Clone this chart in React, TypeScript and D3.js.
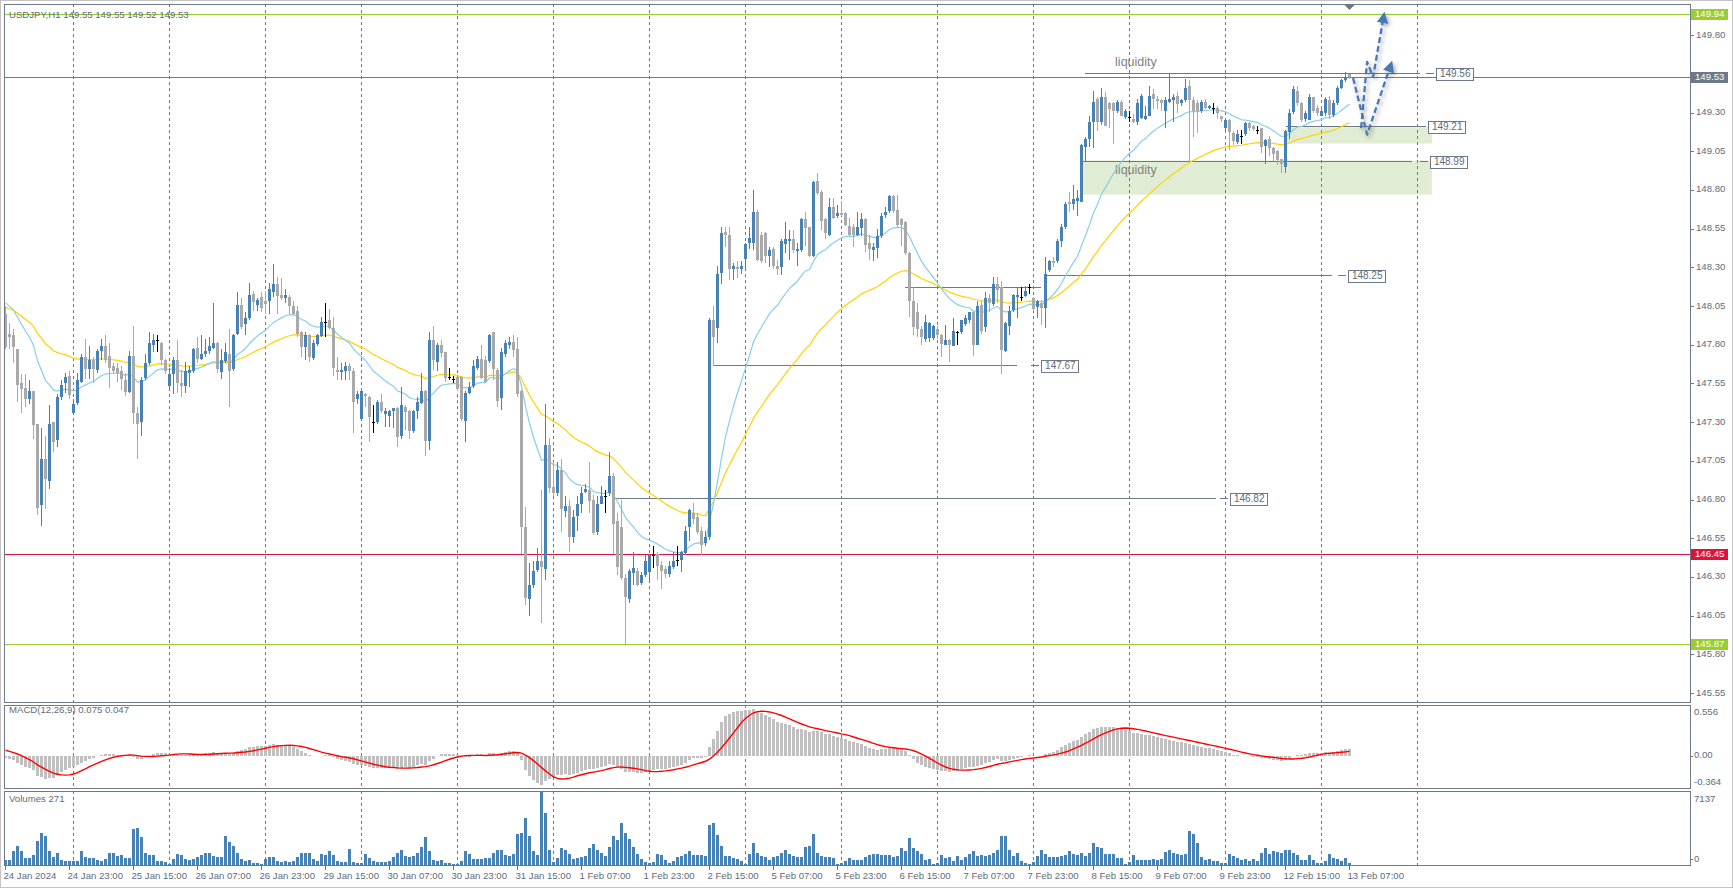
import React from 'react';
import * as d3 from 'd3';

// ---------------- DATA ----------------
const opens = [
148.00,147.87,147.86,147.77,147.55,147.52,147.45,147.50,147.29,146.76,
147.06,146.92,147.30,147.18,147.46,147.55,147.60,147.36,147.42,147.56,
147.72,147.64,147.70,147.64,147.76,147.79,147.73,147.66,147.65,147.63,
147.57,147.50,147.73,147.36,147.30,147.58,147.68,147.80,147.83,147.81,
147.70,147.53,147.61,147.70,147.55,147.53,147.62,147.63,147.78,147.71,
147.74,147.76,147.78,147.81,147.62,147.69,147.74,147.64,147.87,148.06,
147.93,147.97,148.13,148.06,148.11,148.08,148.08,148.14,148.19,148.12,
148.10,148.11,148.05,148.02,147.88,147.78,147.86,147.71,147.80,147.86,
147.95,147.96,147.91,147.64,147.63,147.63,147.66,147.63,147.45,147.32,
147.48,147.46,147.30,147.30,147.43,147.35,147.34,147.37,147.39,147.21,
147.40,147.37,147.24,147.37,147.42,147.50,147.18,147.83,147.69,147.80,
147.75,147.59,147.58,147.59,147.59,147.31,147.49,147.53,147.65,147.71,
147.70,147.69,147.88,147.64,147.45,147.74,147.80,147.82,147.77,147.50,
146.62,146.16,146.25,146.34,146.40,146.35,147.15,146.88,146.84,146.99,
146.73,146.76,146.56,146.69,146.77,146.85,146.86,146.80,146.59,146.77,
146.82,146.84,146.95,146.66,146.62,146.29,146.16,146.33,146.34,146.26,
146.31,146.33,146.44,146.45,146.38,146.35,146.32,146.36,146.41,146.41,
146.46,146.62,146.71,146.69,146.60,146.52,146.56,147.96,147.91,148.26,
148.53,148.51,148.29,148.30,148.29,148.35,148.46,148.46,148.66,148.51,
148.52,148.37,148.42,148.31,148.30,148.45,148.47,148.48,148.41,148.41,
148.61,148.56,148.37,148.86,148.79,148.61,148.51,148.69,148.63,148.65,
148.65,148.57,148.56,148.51,148.55,148.61,148.46,148.41,148.42,148.50,
148.64,148.66,148.76,148.67,148.61,148.59,148.39,148.08,148.01,147.90,
147.84,147.84,147.84,147.90,147.86,147.80,147.83,147.79,147.88,147.88,
147.93,147.96,148.01,147.80,148.06,147.91,148.10,148.06,148.19,148.17,
147.76,147.92,148.02,148.11,148.11,148.12,148.17,148.10,148.04,148.07,
148.04,148.28,148.34,148.34,148.47,148.56,148.72,148.71,148.73,148.72,
149.08,149.13,149.24,149.39,149.24,149.40,149.36,149.36,149.31,149.37,
149.27,149.27,149.26,149.24,149.27,149.26,149.28,149.42,149.39,149.38,
149.31,149.37,149.38,149.41,149.36,149.38,149.47,149.38,149.36,149.31,
149.37,149.33,149.33,149.33,149.28,149.20,149.25,149.17,149.11,149.15,
149.16,149.23,149.21,149.19,149.20,149.08,149.13,149.07,149.05,149.00,
148.95,149.18,149.30,149.44,149.36,149.26,149.25,149.40,149.33,149.28,
149.30,149.38,149.28,149.36,149.46,149.51,149.55];

const highs = [
148.05,147.94,147.90,147.77,147.61,147.61,147.57,147.50,147.29,147.26,
147.21,147.41,147.30,147.48,147.57,147.62,147.63,147.45,147.62,147.74,
147.84,147.79,147.72,147.77,147.84,147.86,147.81,147.68,147.68,147.66,
147.62,147.76,147.92,147.40,147.59,147.74,147.88,147.87,147.86,147.82,
147.71,147.65,147.72,147.83,147.64,147.69,147.66,147.78,147.85,147.86,
147.84,147.85,148.07,147.82,147.77,147.81,147.90,147.87,148.14,148.10,
148.01,148.20,148.15,148.10,148.14,148.15,148.20,148.32,148.24,148.23,
148.16,148.12,148.08,148.05,147.89,147.88,147.87,147.83,147.87,147.98,
148.07,148.03,147.98,147.72,147.68,147.69,147.68,147.65,147.50,147.52,
147.49,147.47,147.41,147.44,147.48,147.39,147.38,147.39,147.40,147.53,
147.41,147.38,147.38,147.46,147.62,147.51,147.88,147.92,147.81,147.83,
147.75,147.65,147.60,147.59,147.60,147.50,147.56,147.70,147.73,147.80,
147.73,147.87,147.88,147.65,147.78,147.83,147.85,147.86,147.85,147.51,
146.75,146.39,146.40,146.49,146.86,147.42,147.20,147.04,147.04,147.06,
146.82,146.80,146.73,146.82,146.88,146.90,147.04,146.83,146.82,146.89,
146.86,147.11,146.97,146.71,146.80,146.32,146.35,146.46,146.36,146.33,
146.44,146.45,146.50,146.46,146.40,146.37,146.40,146.46,146.50,146.47,
146.63,146.74,146.78,146.71,146.62,146.60,147.97,148.05,148.31,148.56,
148.56,148.56,148.33,148.34,148.34,148.46,148.56,148.80,148.67,148.53,
148.53,148.43,148.43,148.35,148.48,148.59,148.54,148.54,148.46,148.62,
148.66,148.56,148.86,148.91,148.80,148.62,148.75,148.75,148.70,148.73,
148.66,148.62,148.58,148.66,148.65,148.62,148.51,148.46,148.55,148.65,
148.69,148.77,148.77,148.77,148.62,148.60,148.40,148.17,148.07,147.92,
147.99,147.95,147.93,147.92,147.87,147.93,147.84,147.97,147.89,147.96,
147.99,148.01,148.02,148.08,148.08,148.14,148.13,148.24,148.24,148.21,
147.95,148.05,148.13,148.17,148.17,148.18,148.19,148.11,148.09,148.09,
148.37,148.35,148.37,148.48,148.58,148.72,148.79,148.83,148.80,149.10,
149.14,149.28,149.44,149.40,149.46,149.43,149.37,149.37,149.38,149.38,
149.32,149.31,149.29,149.39,149.42,149.34,149.47,149.45,149.41,149.39,
149.40,149.55,149.42,149.43,149.39,149.52,149.51,149.40,149.38,149.38,
149.39,149.35,149.36,149.34,149.28,149.26,149.26,149.18,149.19,149.19,
149.24,149.24,149.22,149.21,149.20,149.13,149.15,149.08,149.06,149.00,
149.19,149.32,149.47,149.47,149.37,149.31,149.42,149.40,149.35,149.33,
149.40,149.41,149.38,149.47,149.52,149.56,149.55];

const lows = [
147.77,147.77,147.68,147.43,147.36,147.40,147.42,147.19,146.70,146.63,
146.74,146.87,147.11,147.14,147.44,147.49,147.45,147.35,147.41,147.55,
147.58,147.58,147.55,147.62,147.70,147.68,147.52,147.61,147.56,147.51,
147.47,147.49,147.29,147.06,147.21,147.57,147.67,147.75,147.75,147.67,
147.61,147.51,147.48,147.49,147.46,147.49,147.53,147.62,147.68,147.70,
147.72,147.74,147.77,147.62,147.58,147.68,147.40,147.63,147.86,147.90,
147.86,147.96,148.02,148.02,148.01,148.00,148.00,148.11,148.00,148.09,
148.07,148.00,147.99,147.85,147.72,147.70,147.69,147.70,147.79,147.85,
147.85,147.90,147.60,147.57,147.57,147.57,147.57,147.23,147.42,147.31,
147.40,147.17,147.23,147.29,147.36,147.27,147.27,147.26,147.14,147.19,
147.25,147.19,147.23,147.32,147.42,147.08,147.12,147.64,147.63,147.72,
147.56,147.57,147.55,147.50,147.31,147.17,147.48,147.52,147.64,147.58,
147.55,147.68,147.57,147.40,147.38,147.72,147.77,147.72,147.46,146.45,
146.12,146.05,146.23,146.33,146.00,146.28,146.84,146.82,146.82,146.59,
146.69,146.46,146.52,146.60,146.71,146.84,146.71,146.57,146.57,146.77,
146.71,146.82,146.45,146.31,146.28,145.87,146.13,146.25,146.24,146.25,
146.30,146.27,146.36,146.28,146.22,146.29,146.30,146.35,146.37,146.33,
146.44,146.53,146.64,146.58,146.44,146.50,146.54,147.66,147.81,148.19,
148.43,148.22,148.22,148.23,148.26,148.29,148.42,148.41,148.34,148.33,
148.33,148.30,148.29,148.25,148.25,148.39,148.35,148.39,148.31,148.40,
148.44,148.37,148.37,148.77,148.54,148.48,148.50,148.61,148.62,148.63,
148.57,148.50,148.43,148.50,148.50,148.40,148.35,148.34,148.36,148.49,
148.62,148.65,148.65,148.56,148.44,148.38,147.98,147.86,147.85,147.80,
147.82,147.82,147.83,147.84,147.72,147.80,147.69,147.79,147.80,147.87,
147.92,147.94,147.73,147.80,147.87,147.88,148.01,148.05,148.07,147.61,
147.75,147.86,148.01,147.97,148.08,148.11,148.13,148.02,147.97,147.93,
147.91,148.27,148.30,148.33,148.43,148.55,148.66,148.67,148.63,148.72,
148.98,149.08,149.07,149.18,149.22,149.21,149.20,149.10,149.30,149.28,
149.26,149.24,149.23,149.22,149.26,149.25,149.28,149.32,149.32,149.31,
149.20,149.36,149.24,149.30,149.34,149.37,148.99,149.14,149.17,149.30,
149.32,149.32,149.29,149.26,149.24,149.18,149.06,149.09,149.10,149.10,
149.15,149.18,149.18,149.16,149.04,148.97,149.02,148.99,148.96,148.91,
148.91,149.13,149.29,149.34,149.24,149.24,149.25,149.30,149.28,149.28,
149.28,149.26,149.27,149.35,149.45,149.50,149.52];

const closes = [
147.79,147.85,147.78,147.54,147.51,147.45,147.50,147.28,146.75,147.06,
146.93,147.29,147.17,147.46,147.54,147.59,147.48,147.42,147.57,147.72,
147.64,147.70,147.64,147.76,147.79,147.70,147.65,147.63,147.62,147.58,
147.49,147.73,147.36,147.29,147.57,147.68,147.81,147.83,147.83,147.70,
147.63,147.61,147.70,147.55,147.53,147.63,147.64,147.77,147.71,147.74,
147.76,147.79,147.81,147.64,147.70,147.75,147.63,147.86,148.06,147.92,
147.97,148.12,148.08,148.09,148.04,148.06,148.16,148.19,148.11,148.10,
148.12,148.05,148.00,147.87,147.78,147.86,147.72,147.81,147.86,147.95,
147.95,147.91,147.65,147.63,147.64,147.66,147.63,147.43,147.48,147.50,
147.47,147.33,147.30,147.43,147.37,147.37,147.37,147.39,147.20,147.41,
147.37,147.24,147.37,147.43,147.50,147.18,147.83,147.70,147.80,147.75,
147.58,147.59,147.58,147.51,147.32,147.49,147.53,147.66,147.71,147.59,
147.56,147.86,147.64,147.44,147.75,147.81,147.82,147.77,147.48,146.62,
146.16,146.25,146.34,146.40,146.36,147.15,146.87,146.84,146.99,146.74,
146.76,146.56,146.69,146.77,146.84,146.87,146.79,146.59,146.77,146.82,
146.82,146.95,146.64,146.36,146.29,146.17,146.34,146.36,146.25,146.31,
146.40,146.44,146.44,146.37,146.34,146.32,146.37,146.40,146.41,146.46,
146.60,146.73,146.67,146.59,146.51,146.56,147.96,147.85,148.26,148.52,
148.51,148.29,148.31,148.29,148.31,148.45,148.49,148.66,148.35,148.34,
148.37,148.41,148.31,148.29,148.47,148.48,148.48,148.41,148.42,148.61,
148.55,148.37,148.85,148.78,148.60,148.52,148.69,148.62,148.65,148.64,
148.57,148.51,148.51,148.56,148.61,148.44,148.42,148.43,148.50,148.63,
148.66,148.76,148.66,148.57,148.57,148.39,148.08,147.91,147.90,147.85,
147.95,147.94,147.92,147.86,147.80,147.83,147.80,147.89,147.88,147.96,
147.97,148.01,147.80,148.05,147.89,148.10,148.07,148.19,148.15,147.76,
147.94,148.02,148.12,148.12,148.11,148.15,148.17,148.03,148.08,148.04,
148.26,148.34,148.33,148.47,148.56,148.71,148.71,148.74,148.75,149.09,
149.13,149.24,149.37,149.24,149.40,149.21,149.32,149.31,149.37,149.28,
149.31,149.27,149.24,149.36,149.41,149.28,149.41,149.39,149.38,149.36,
149.38,149.39,149.40,149.36,149.38,149.46,149.38,149.31,149.31,149.37,
149.33,149.34,149.33,149.30,149.26,149.25,149.17,149.12,149.16,149.15,
149.23,149.20,149.19,149.19,149.08,149.12,149.07,149.03,148.99,148.97,
149.18,149.30,149.45,149.36,149.25,149.30,149.40,149.31,149.30,149.31,
149.39,149.28,149.36,149.46,149.51,149.53,149.53];

const volumes = [
600,600,1400,1900,1400,800,730,1000,2400,3100,
2900,1430,900,1200,600,500,430,500,500,1400,
900,760,730,600,500,660,1230,1260,930,1000,
800,800,3500,3600,2800,1230,1060,1000,500,500,
400,170,660,1160,1000,660,560,660,900,1060,
1260,1260,930,900,900,2900,2320,1930,1230,660,
500,560,330,330,170,660,900,830,500,400,
430,400,500,830,1260,1260,1260,660,500,1160,
1000,1430,1060,500,400,400,1600,400,270,270,
1130,730,500,400,400,400,500,830,1200,1560,
930,900,930,1260,1830,2790,1430,600,430,600,
330,270,200,170,430,1400,1160,660,660,660,
730,730,1230,1560,1500,1060,930,1160,3000,3150,
4580,2890,1400,1000,7137,5080,1500,400,730,1730,
1500,1100,660,730,830,930,1760,2090,1560,1260,
930,1830,2890,2490,4080,3150,2590,1830,1160,660,
400,330,400,1100,1000,600,270,500,830,930,
1160,1400,1060,1000,1000,930,3920,4080,2920,1930,
930,930,730,660,500,230,1160,2220,1230,930,
830,600,830,930,1260,1500,1160,930,830,830,
1830,1930,3000,1260,930,830,830,760,230,270,
430,730,600,600,600,830,1000,1160,1100,1000,
1000,1000,830,930,1730,1430,2660,1760,1400,1160,
600,660,230,270,1060,730,830,500,930,600,
830,1160,1400,930,1060,930,1060,1260,1500,2820,
2820,1500,930,1230,500,270,230,400,930,1500,
1160,830,830,830,930,1060,1400,1160,1060,1260,
930,1260,2220,1830,1730,1100,1100,1160,730,730,
230,400,1000,600,600,600,600,660,600,660,
1330,1500,1260,1160,1060,1160,3290,3050,2160,830,
600,660,430,430,270,270,1160,930,730,600,
660,500,660,500,1260,1760,1160,1400,1330,1260,
1500,1500,1260,1060,600,600,1060,600,330,270,
500,1100,730,660,500,730,271];

const timeLabelIdx = [0,16,32,48,64,80,96,112,128,144,160,176,192,208,224,240,256,272,288,304,320,336];
const timeLabels = ['24 Jan 2024','24 Jan 23:00','25 Jan 15:00','26 Jan 07:00','26 Jan 23:00','29 Jan 15:00',
  '30 Jan 07:00','30 Jan 23:00','31 Jan 15:00','1 Feb 07:00','1 Feb 23:00','2 Feb 15:00','5 Feb 07:00',
  '5 Feb 23:00','6 Feb 15:00','7 Feb 07:00','7 Feb 23:00','8 Feb 15:00','9 Feb 07:00','9 Feb 23:00',
  '12 Feb 15:00','13 Feb 07:00'];
const dayStartIdx = [17,41,65,89,113,137,161,185,209,233,257,281,305,329,353];

const priceTicks = [149.80,149.55,149.30,149.05,148.80,148.55,148.30,148.05,147.80,147.55,147.30,147.05,146.80,146.55,146.30,146.05,145.80,145.55];
const greenLevels = [149.94, 145.87];
const bidPrice = 149.53;
const alertLevel = 146.45;

// EMA(20), EMA(50) values just before the first bar, MACD EMA(12)/EMA(26) seeds, signal history seed
const emaSeeds = [148.10, 148.05];
const macdEmaSeeds = [148.01, 148.02];
const signalSeed = 0.071;
const macdScale = [-0.364, 0.556];
const volumeMax = 7137;

const headerText = 'USDJPY,H1  149.55 149.55 149.52 149.53';
const macdHeader = 'MACD(12,26,9) 0.075 0.047';
const volHeader = 'Volumes 271';

// horizontal drawn levels: price, label, start bar, end bar, label-box bar
const lvlPrice = [146.81, 147.67, 148.17, 148.25, 148.99, 149.21, 149.555];
const lvlLabel = ['146.82', '147.67', '', '148.25', '148.99', '149.21', '149.56'];
const lvlStart = [151.9, 176.9, 224.9, 260.1, 269.4, 320.1, 269.9];
const lvlEnd = [302.6, 252.9, 258.9, 331.6, 351.6, 353.6, 353.6];
const lvlBox = [306.1, 258.9, 0, 335.6, 356.1, 355.6, 357.6];

// zones: [low, high], start bar, end bar
const zoneLow = [148.77, 148.99];
const zoneHigh = [149.10, 149.205];
const zoneStart = [269.4, 320.1];
const zoneEnd = [356.6, 356.6];

const noteText = ['liquidity', 'liquidity'];
const noteBar = [277.4, 277.4];
const notePrice = [149.623, 148.923];

// forecast arrows: [bar, price]
const arrowA: [number, number][] = [[336.9, 149.523], [340.4, 149.158], [346.4, 149.614]];
const arrowB: [number, number][] = [[338.9, 149.20], [340.4, 149.627], [341.9, 149.53], [344.6, 149.93]];

// ---------------- CHART ----------------
const FONT = "'Liberation Sans', Arial, sans-serif";
const FS = 9.3;
const COL = {
  bull: '#4682b4', bear: '#a9a9a9', doji: '#000000', frame: '#6d7987', text: '#5f6b79',
  green: '#9acd32', red: '#dc143c', emaFast: '#87ceeb', emaSlow: '#ffd200', hist: '#c0c0c0',
  signal: '#ff0000', zone: '#e0ecd3', arrow: '#4a78b4', grid: '#6d7987'
};

function ema(values: number[], period: number, seed: number) {
  let e = seed;
  const k = 2 / (period + 1);
  return values.map(v => (e = e + (v - e) * k));
}

export default function App() {
  const W = 1733, H = 889;
  const L = 4, R = 1690;
  const mainTop = 4, mainBot = 703;
  const mTop = 705, mBot = 789;
  const vTop = 791, vBot = 866;

  const x = d3.scaleLinear().domain([0, 336]).range([5.5, 1349.5]);
  const y = d3.scaleLinear().domain([145.87, 149.94]).range([643.5, 13.5]);
  const yM = d3.scaleLinear().domain(macdScale).range([mBot, mTop]);
  const yV = d3.scaleLinear().domain([0, volumeMax]).range([vBot, vTop]);

  const emaFast = ema(closes, 20, emaSeeds[0]);
  const emaSlow = ema(closes, 50, emaSeeds[1]);
  const e12 = ema(closes, 12, macdEmaSeeds[0]);
  const e26 = ema(closes, 26, macdEmaSeeds[1]);
  const macd = e12.map((v, i) => v - e26[i]);
  const win = [...new Array(8).fill(signalSeed), ...macd];
  const signal = macd.map((_, i) => (d3.mean(win.slice(i, i + 9)) as number));

  const lineP = d3.line<number>().x((_, i) => x(i)).y(v => y(v));
  const lineM = d3.line<number>().x((_, i) => x(i)).y(v => yM(v));
  const arrowLine = d3.line<[number, number]>().x(d => x(d[0])).y(d => y(d[1]));

  const boxW = 37, boxH = 12;
  const axisBoxes = [
    { p: greenLevels[0], c: COL.green },
    { p: bidPrice, c: COL.frame },
    { p: alertLevel, c: COL.red },
    { p: greenLevels[1], c: COL.green },
  ];
  // tick labels fully covered by a price box are not drawn (the box hides them)
  const visibleTicks = priceTicks.filter(p => axisBoxes.every(b => Math.abs(y(b.p) - y(p)) > 8));

  return (
    <svg width={W} height={H} style={{ position: 'fixed', left: 0, top: 0, background: '#fff' }}
      fontFamily={FONT}>
      <defs>
        <clipPath id="cMain"><rect x={L} y={mainTop} width={R - L} height={mainBot - mainTop} /></clipPath>
        <clipPath id="cMacd"><rect x={L} y={mTop} width={R - L} height={mBot - mTop} /></clipPath>
        <clipPath id="cVol"><rect x={L} y={vTop} width={R - L} height={vBot - vTop} /></clipPath>
        <filter id="shadow" x="-50%" y="-50%" width="200%" height="200%">
          <feDropShadow dx="2" dy="2" stdDeviation="2" floodColor="#000" floodOpacity="0.35" />
        </filter>
        <marker id="ah" viewBox="0 0 10 10" refX="7" refY="5" markerWidth="5" markerHeight="5" orient="auto">
          <path d="M0,0 L10,5 L0,10 z" fill={COL.arrow} />
        </marker>
      </defs>
      <rect x={0} y={0} width={W} height={H} fill="#fff" />
      <rect x={0.5} y={0.5} width={W - 1} height={H - 2} fill="none" stroke="#c4c4c4" />

      {/* zones */}
      <g clipPath="url(#cMain)">
        {[zoneLow, zoneHigh].map((z, k) => (
          <rect key={k} x={x(zoneStart[k])} y={y(z[1])} width={x(zoneEnd[k]) - x(zoneStart[k])}
            height={y(z[0]) - y(z[1])} fill={COL.zone} />
        ))}
      </g>

      {/* vertical day gridlines */}
      {dayStartIdx.map(i => (
        <g key={i} stroke={COL.grid} strokeDasharray="3,3" shapeRendering="crispEdges">
          <line x1={x(i)} x2={x(i)} y1={mainTop} y2={mainBot} />
          <line x1={x(i)} x2={x(i)} y1={mTop} y2={mBot} />
          <line x1={x(i)} x2={x(i)} y1={vTop} y2={vBot} />
        </g>
      ))}

      {/* horizontal marked levels */}
      <g shapeRendering="crispEdges">
        {greenLevels.map(p => (
          <line key={p} x1={L} x2={R} y1={Math.round(y(p)) + 0.5} y2={Math.round(y(p)) + 0.5} stroke={COL.green} strokeWidth={1.2} />
        ))}
        <line x1={L} x2={R} y1={Math.round(y(alertLevel)) + 0.5} y2={Math.round(y(alertLevel)) + 0.5} stroke={COL.red} strokeWidth={1.2} />
        <line x1={L} x2={R} y1={Math.round(y(bidPrice)) + 0.5} y2={Math.round(y(bidPrice)) + 0.5} stroke={COL.frame} />
      </g>

      {/* trend levels with labels */}
      <g shapeRendering="crispEdges">
        {lvlPrice.map((p, k) => {
          const yy = Math.round(y(p)) + 0.5;
          const bx = x(lvlBox[k]);
          return (
            <g key={k}>
              <line x1={x(lvlStart[k])} x2={x(lvlEnd[k])} y1={yy} y2={yy} stroke={COL.frame} strokeWidth={1.2} />
              {lvlLabel[k] && (
                <g>
                  <line x1={bx - 10} x2={bx - 2} y1={yy} y2={yy} stroke={COL.frame} />
                  <rect x={Math.round(bx) + 0.5} y={Math.round(yy - boxH / 2) + 0.5} width={boxW} height={boxH}
                    fill="#fff" stroke={COL.frame} />
                  <text x={bx + 4} y={yy + 0.5} dominantBaseline="middle" fontSize={FS + 0.7} fill={COL.text}>{lvlLabel[k]}</text>
                </g>
              )}
            </g>
          );
        })}
      </g>

      {/* notes */}
      {noteText.map((t, k) => (
        <text key={k} x={x(noteBar[k])} y={y(notePrice[k])} dominantBaseline="middle" fontSize={12.5} fill="#808080">{t}</text>
      ))}

      {/* moving averages and candles */}
      <g clipPath="url(#cMain)">
        <path d={lineP(emaSlow) || ''} fill="none" stroke={COL.emaSlow} strokeWidth={1.2} />
        <path d={lineP(emaFast) || ''} fill="none" stroke={COL.emaFast} strokeWidth={1.2} />
        {closes.map((c, i) => {
          const o = opens[i];
          const doji = Math.abs(c - o) < 0.001;
          const col = doji ? COL.doji : c > o ? COL.bull : COL.bear;
          const top = y(Math.max(o, c));
          const bot = y(Math.min(o, c));
          const bh = Math.max(1, Math.round(bot - top));
          return (
            <g key={i} shapeRendering="crispEdges">
              <line x1={x(i)} x2={x(i)} y1={Math.round(y(highs[i]))} y2={Math.round(y(lows[i]))} stroke={col} />
              <rect x={x(i) - 1.5} y={Math.round(top)} width={3} height={bh} fill={col} />
            </g>
          );
        })}
      </g>

      {/* forecast arrows */}
      <g filter="url(#shadow)" fill="none" stroke={COL.arrow} strokeWidth={2.3} strokeDasharray="6,3" strokeLinejoin="round">
        <path d={arrowLine(arrowA) || ''} markerEnd="url(#ah)" />
        <path d={arrowLine(arrowB) || ''} markerEnd="url(#ah)" />
      </g>

      {/* top shift marker */}
      <path d={`M${x(336) - 5},5 L${x(336) + 5},5 L${x(336)},10 z`} fill={COL.frame} />

      {/* MACD */}
      <g clipPath="url(#cMacd)">
        {macd.map((v, i) => (
          <rect key={i} x={x(i) - 1.5} y={Math.min(yM(v), yM(0))} width={3}
            height={Math.max(0.5, Math.abs(yM(v) - yM(0)))} fill={COL.hist} shapeRendering="crispEdges" />
        ))}
        <path d={lineM(signal) || ''} fill="none" stroke={COL.signal} strokeWidth={1.4} />
      </g>

      {/* Volumes */}
      <g clipPath="url(#cVol)" shapeRendering="crispEdges">
        {volumes.map((v, i) => (
          <rect key={i} x={x(i) - 1.5} y={yV(v)} width={3} height={vBot - yV(v)} fill={COL.bull} />
        ))}
      </g>

      {/* panel frames */}
      <g fill="none" stroke={COL.frame} shapeRendering="crispEdges">
        <rect x={L + 0.5} y={mainTop + 0.5} width={R - L} height={mainBot - mainTop - 1} />
        <rect x={L + 0.5} y={mTop + 0.5} width={R - L} height={mBot - mTop - 1} />
        <rect x={L + 0.5} y={vTop + 0.5} width={R - L} height={vBot - vTop - 1} />
      </g>

      {/* headers */}
      <text x={9} y={18} fontSize={FS + 0.3} fill={COL.text}>{headerText}</text>
      <text x={9} y={713} fontSize={FS + 0.3} fill={COL.text}>{macdHeader}</text>
      <text x={9} y={802} fontSize={FS + 0.3} fill={COL.text}>{volHeader}</text>

      {/* price axis */}
      <g fontSize={FS + 0.3} fill={COL.text}>
        {priceTicks.map(p => (
          <line key={'t' + p} x1={R} x2={R + 4} y1={Math.round(y(p)) + 0.5} y2={Math.round(y(p)) + 0.5} stroke={COL.frame} shapeRendering="crispEdges" />
        ))}
        {visibleTicks.map(p => (
          <text key={p} x={R + 6} y={y(p)} dominantBaseline="middle">{p.toFixed(2)}</text>
        ))}
        {axisBoxes.map(({ p, c }) => (
          <g key={p}>
            <rect x={R + 1} y={Math.round(y(p)) - 5} width={37} height={11} fill={c} />
            <text x={R + 5} y={y(p) + 0.5} dominantBaseline="middle" fill="#fff">{p.toFixed(2)}</text>
          </g>
        ))}
        {/* MACD scale */}
        <text x={R + 4} y={mTop + 7} dominantBaseline="middle">{macdScale[1].toFixed(3)}</text>
        <line x1={R} x2={R + 3} y1={Math.round(yM(0)) + 0.5} y2={Math.round(yM(0)) + 0.5} stroke={COL.frame} />
        <text x={R + 4} y={yM(0)} dominantBaseline="middle">0.00</text>
        <text x={R + 4} y={mBot - 7} dominantBaseline="middle">{macdScale[0].toFixed(3)}</text>
        {/* volume scale */}
        <text x={R + 4} y={vTop + 8} dominantBaseline="middle">{volumeMax}</text>
        <line x1={R} x2={R + 3} y1={vBot - 6.5} y2={vBot - 6.5} stroke={COL.frame} />
        <text x={R + 4} y={vBot - 7} dominantBaseline="middle">0</text>
      </g>

      {/* time axis */}
      <g fontSize={FS + 0.3} fill={COL.text}>
        {timeLabelIdx.map((i, k) => (
          <g key={i}>
            <line x1={x(i)} x2={x(i)} y1={vBot} y2={vBot + 4} stroke={COL.frame} shapeRendering="crispEdges" />
            <text x={x(i) - 2} y={876} dominantBaseline="middle">{timeLabels[k]}</text>
          </g>
        ))}
      </g>
    </svg>
  );
}
